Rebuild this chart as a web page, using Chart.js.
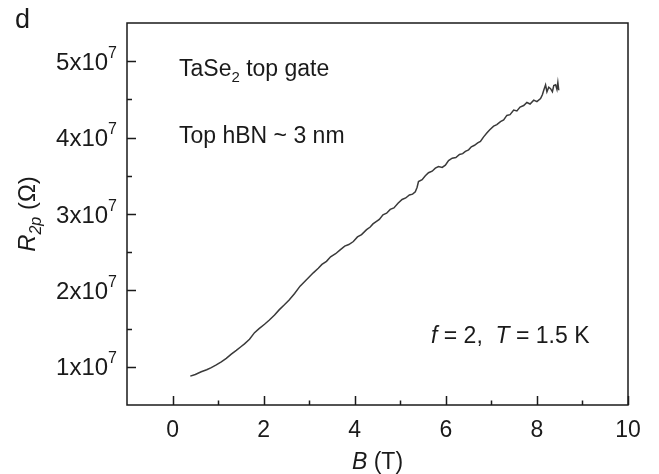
<!DOCTYPE html>
<html>
<head>
<meta charset="utf-8">
<script src="https://cdn.jsdelivr.net/npm/chart.js@4.4.1/dist/chart.umd.min.js"></script>
<style>
    html, body { margin: 0; padding: 0; background: #fff; }
    #wrap { width: 659px; height: 474px; position: relative; }
</style>
</head>
<body>
<div id="wrap"><canvas id="chart"></canvas></div>
<script>
// magnetic field B (T)
const bField = [
    0.39, 0.50, 0.63, 0.75, 0.85, 0.96, 1.07, 1.18, 1.29, 1.40,
    1.50, 1.58, 1.69, 1.80, 1.90, 2.02, 2.12, 2.24, 2.34, 2.45,
    2.56, 2.68, 2.80, 2.94, 3.09, 3.20, 3.28, 3.38, 3.47, 3.58,
    3.68, 3.78, 3.87, 3.97, 4.06, 4.15, 4.26, 4.34, 4.40, 4.47,
    4.54, 4.62, 4.70, 4.78, 4.86, 4.95, 5.04, 5.12, 5.20, 5.27,
    5.33, 5.37, 5.40, 5.48, 5.55, 5.62, 5.70, 5.77, 5.84, 5.92,
    5.99, 6.06, 6.14, 6.22, 6.30, 6.37, 6.43, 6.50, 6.56, 6.63,
    6.70, 6.76, 6.83, 6.90, 6.96, 7.05, 7.12, 7.20, 7.27, 7.34,
    7.41, 7.49, 7.56, 7.63, 7.71, 7.78, 7.85, 7.93, 8.00, 8.08,
    8.12, 8.15, 8.19, 8.22, 8.26, 8.30, 8.34, 8.37, 8.41, 8.44,
    8.46, 8.48
];
// two-probe resistance R2p (units of 1e7 ohm)
const r2p = [
    0.878, 0.900, 0.935, 0.962, 0.990, 1.025, 1.065, 1.110, 1.166, 1.215,
    1.262, 1.300, 1.360, 1.447, 1.500, 1.557, 1.610, 1.678, 1.745, 1.808,
    1.874, 1.960, 2.056, 2.140, 2.230, 2.290, 2.340, 2.380, 2.440, 2.480,
    2.530, 2.580, 2.600, 2.640, 2.700, 2.730, 2.795, 2.830, 2.870, 2.900,
    2.930, 2.990, 3.010, 3.060, 3.080, 3.140, 3.190, 3.210, 3.250, 3.260,
    3.290, 3.350, 3.425, 3.450, 3.500, 3.540, 3.560, 3.600, 3.620, 3.610,
    3.640, 3.700, 3.730, 3.740, 3.780, 3.790, 3.820, 3.840, 3.880, 3.900,
    3.930, 3.950, 4.010, 4.060, 4.100, 4.150, 4.170, 4.210, 4.230, 4.290,
    4.300, 4.360, 4.350, 4.400, 4.420, 4.460, 4.440, 4.490, 4.470, 4.510,
    4.560, 4.620, 4.690, 4.600, 4.660, 4.640, 4.600, 4.680, 4.690, 4.630,
    4.720, 4.620
];

const xMajorTicks = [0, 2, 4, 6, 8, 10];
const xMinorTicks = [1, 3, 5, 7, 9];
const yMajorTicks = [1e7, 2e7, 3e7, 4e7, 5e7];
const yMinorTicks = [1.5e7, 2.5e7, 3.5e7, 4.5e7];

document.addEventListener('DOMContentLoaded', function() {
    const FONT = '"Liberation Sans", Arial, sans-serif';
    const INK = '#1a1a1a';

    // draws a run of text pieces with their own font / vertical shift
    const drawRich = (ctx, parts, x, y, align) => {
        let total = 0;
        parts.forEach(p => { ctx.font = p.font; total += ctx.measureText(p.t).width; });
        let cx = x;
        if (align === 'center') cx = x - total / 2;
        if (align === 'right') cx = x - total;
        ctx.textAlign = 'left';
        ctx.textBaseline = 'alphabetic';
        parts.forEach(p => {
            ctx.font = p.font;
            ctx.fillText(p.t, cx, y + (p.dy || 0));
            cx += ctx.measureText(p.t).width;
        });
    };

    const framePlugin = {
        id: 'frame',
        afterDraw(chart) {
            const ctx = chart.ctx;
            const a = chart.chartArea;
            const xs = chart.scales.x;
            const ys = chart.scales.y;
            ctx.save();
            ctx.strokeStyle = INK;
            ctx.lineWidth = 1.5;
            ctx.strokeRect(a.left, a.top, a.right - a.left, a.bottom - a.top);

            ctx.beginPath();
            xMajorTicks.forEach(v => {
                const px = Math.round(xs.getPixelForValue(v)) + 0.5;
                ctx.moveTo(px, a.bottom); ctx.lineTo(px, a.bottom - 9);
            });
            xMinorTicks.forEach(v => {
                const px = Math.round(xs.getPixelForValue(v)) + 0.5;
                ctx.moveTo(px, a.bottom); ctx.lineTo(px, a.bottom - 4.5);
            });
            yMajorTicks.forEach(v => {
                const py = Math.round(ys.getPixelForValue(v)) + 0.5;
                ctx.moveTo(a.left, py); ctx.lineTo(a.left + 9, py);
            });
            yMinorTicks.forEach(v => {
                const py = Math.round(ys.getPixelForValue(v)) + 0.5;
                ctx.moveTo(a.left, py); ctx.lineTo(a.left + 5, py);
            });
            ctx.stroke();

            ctx.fillStyle = INK;
            // y tick labels with a real superscript exponent
            yMajorTicks.forEach(v => {
                const py = ys.getPixelForValue(v);
                drawRich(ctx, [
                    { t: `${Math.round(v / 1e7)}x10`, font: `24px ${FONT}` },
                    { t: '7', font: `16px ${FONT}`, dy: -12 }
                ], a.left - 10, py + 8.5, 'right');
            });
            // panel letter
            drawRich(ctx, [{ t: 'd', font: `27px ${FONT}` }], 15, 28);
            // annotations
            drawRich(ctx, [
                { t: 'TaSe', font: `23px ${FONT}` },
                { t: '2', font: `15px ${FONT}`, dy: 6 },
                { t: ' top gate', font: `23px ${FONT}` }
            ], 179, 76);
            drawRich(ctx, [{ t: 'Top hBN ~ 3 nm', font: `23px ${FONT}` }], 179, 143);
            drawRich(ctx, [
                { t: 'f', font: `italic 23px ${FONT}` },
                { t: ' = 2,  ', font: `23px ${FONT}` },
                { t: 'T', font: `italic 23px ${FONT}` },
                { t: ' = 1.5 K', font: `23px ${FONT}` }
            ], 431, 343);
            // axis titles
            drawRich(ctx, [
                { t: 'B', font: `italic 23px ${FONT}` },
                { t: ' (T)', font: `23px ${FONT}` }
            ], (a.left + a.right) / 2, 469, 'center');
            ctx.translate(35, (a.top + a.bottom) / 2);
            ctx.rotate(-Math.PI / 2);
            drawRich(ctx, [
                { t: 'R', font: `italic 24px ${FONT}` },
                { t: '2p', font: `italic 16px ${FONT}`, dy: 6 },
                { t: ' (\u03A9)', font: `24px ${FONT}` }
            ], 0, 0, 'center');
            ctx.restore();
        }
    };

    const points = bField.map((b, i) => ({ x: b, y: r2p[i] * 1e7 }));

    new Chart(document.getElementById('chart'), {
        type: 'scatter',
        data: {
            datasets: [{
                data: points,
                showLine: true,
                borderColor: '#3a3a3a',
                borderWidth: 1.5,
                pointRadius: 0,
                tension: 0
            }]
        },
        options: {
            responsive: true,
            maintainAspectRatio: false,
            animation: false,
            layout: { padding: { top: 23, right: 31, left: 0, bottom: 0 } },
            plugins: {
                legend: { display: false },
                tooltip: { enabled: false }
            },
            scales: {
                x: {
                    type: 'linear',
                    min: -1,
                    max: 10,
                    afterBuildTicks: s => { s.ticks = xMajorTicks.map(v => ({ value: v })); },
                    afterFit: s => { s.height = 69; },
                    grid: { display: false },
                    border: { display: false },
                    ticks: {
                        font: { family: FONT, size: 23 },
                        color: INK,
                        padding: 4,
                        maxRotation: 0
                    }
                },
                y: {
                    min: 0.5e7,
                    max: 5.5e7,
                    afterBuildTicks: s => { s.ticks = yMajorTicks.map(v => ({ value: v })); },
                    afterFit: s => { s.width = 127; },
                    grid: { display: false },
                    border: { display: false },
                    ticks: { display: false }
                }
            }
        },
        plugins: [framePlugin]
    });
});
</script>
</body>
</html>
